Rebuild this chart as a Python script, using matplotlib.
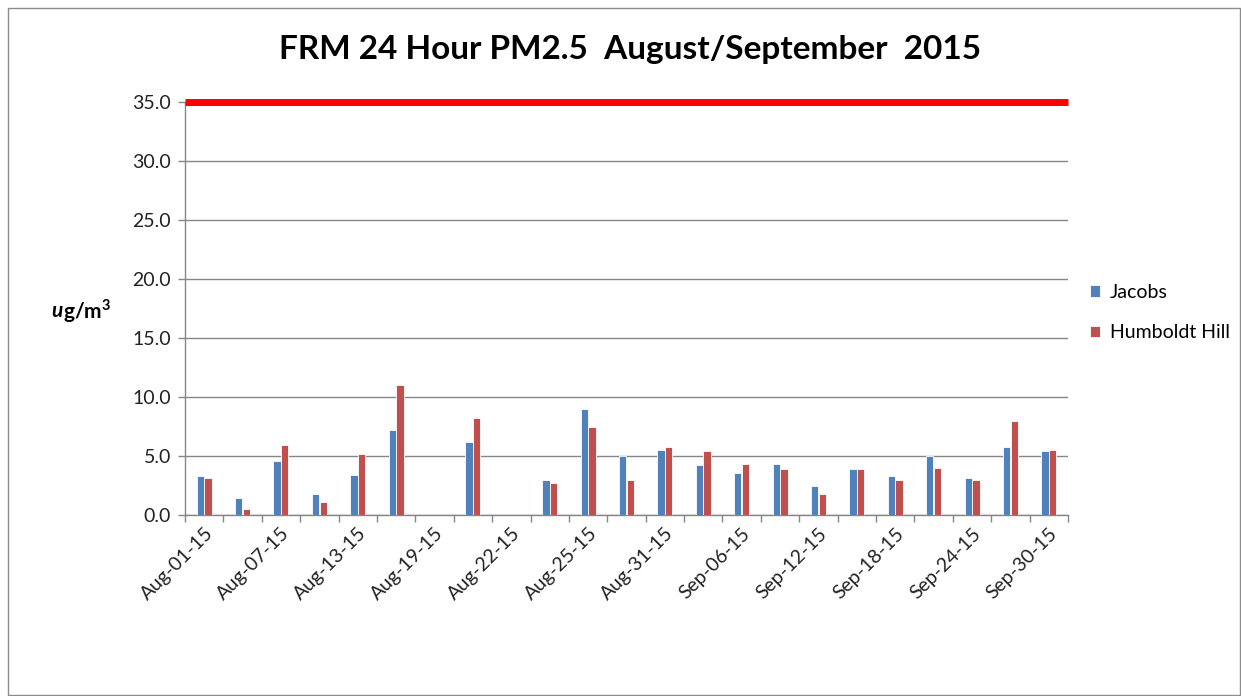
import numpy as np
import matplotlib
matplotlib.use("Agg")
import matplotlib.pyplot as plt
from matplotlib.patches import Rectangle

dates = ["Aug-01-15", "Aug-04-15", "Aug-07-15", "Aug-10-15", "Aug-13-15",
         "Aug-16-15", "Aug-19-15", "Aug-21-15", "Aug-22-15", "Aug-24-15",
         "Aug-25-15", "Aug-28-15", "Aug-31-15", "Sep-03-15", "Sep-06-15",
         "Sep-09-15", "Sep-12-15", "Sep-15-15", "Sep-18-15", "Sep-21-15",
         "Sep-24-15", "Sep-27-15", "Sep-30-15"]
jacobs = [3.3, 1.4, 4.6, 1.8, 3.4, 7.2, np.nan, 6.2, np.nan, 3.0,
          9.0, 5.0, 5.5, 4.2, 3.6, 4.3, 2.5, 3.9, 3.3, 5.0,
          3.1, 5.8, 5.4]
humboldt = [3.1, 0.5, 5.9, 1.1, 5.2, 11.0, np.nan, 8.2, np.nan, 2.7,
            7.5, 3.0, 5.8, 5.4, 4.3, 3.9, 1.8, 3.9, 3.0, 4.0,
            3.0, 8.0, 5.5]
standard = 35.0

blue = "#4F81BD"
red = "#C0504D"
grid_c = "#868686"
font = "Lato"

plt.rcParams["mathtext.fontset"] = "custom"
plt.rcParams["mathtext.rm"] = "Lato"
plt.rcParams["mathtext.bf"] = "Lato:bold"

fig = plt.figure(figsize=(12.41, 6.96), dpi=100)
ax = fig.add_axes([185 / 1241, 1 - 515 / 696, (1068 - 185) / 1241, (515 - 102) / 696])

x = np.arange(len(dates))
ax.bar(x - 0.1, jacobs, width=0.19, color=blue, edgecolor="white", linewidth=0.6, label="Jacobs", zorder=3)
ax.bar(x + 0.1, humboldt, width=0.19, color=red, edgecolor="white", linewidth=0.6, label="Humboldt Hill", zorder=3)
ax.axhline(standard, color="#FF0000", linewidth=5, zorder=4, solid_capstyle="butt", clip_on=False)

ax.set_xlim(-0.5, len(dates) - 0.5)
ax.set_ylim(0, 35)
ax.set_yticks(np.arange(0, 36, 5))
ax.set_yticklabels([f"{v:.1f}" for v in np.arange(0, 36, 5)], fontsize=14, family=font, color="#222222")
ax.yaxis.grid(True, color=grid_c, linewidth=1.0, zorder=0)

ax.set_xticks(x[::2])
ax.set_xticklabels(dates[::2], rotation=45, ha="right", rotation_mode="anchor",
                   fontsize=14, family=font, color="#222222")
ax.set_xticks(np.arange(-0.5, len(dates)), minor=True)
ax.tick_params(axis="x", which="major", length=0, pad=7)
ax.tick_params(axis="x", which="minor", length=5, color=grid_c, width=1)
ax.tick_params(axis="y", length=5, color=grid_c, width=1, pad=5)

for s in ["top", "right"]:
    ax.spines[s].set_visible(False)
for s in ["left", "bottom"]:
    ax.spines[s].set_color(grid_c)
    ax.spines[s].set_linewidth(1.0)

fig.text(630 / 1241, 1 - 49 / 696, "FRM 24 Hour PM2.5  August/September  2015",
         ha="center", va="center", fontsize=24, fontweight="bold", family=font)

ylab_y = 1 - 311 / 696
fig.text(63 / 1241, ylab_y, "u", ha="right", va="center", fontsize=15,
         fontweight="bold", style="italic", family=font)
fig.text(63 / 1241, ylab_y, r"g/m$^\mathbf{3}$", ha="left", va="center", fontsize=15,
         fontweight="bold", family=font)

leg = ax.legend(loc="center left", bbox_to_anchor=((1082 - 185) / 883, 0.49), frameon=False,
                prop={"family": font, "size": 14}, handlelength=0.55, handleheight=0.55,
                handletextpad=0.5, labelspacing=1.2, borderaxespad=0)

fig.patches.append(Rectangle((8 / 1241, 0.002), 1 - 9 / 1241, 1 - 8 / 696 - 0.002,
                             transform=fig.transFigure, fill=False,
                             edgecolor="#8C8C8C", linewidth=1.0))

fig.savefig("out.png", dpi=100)
